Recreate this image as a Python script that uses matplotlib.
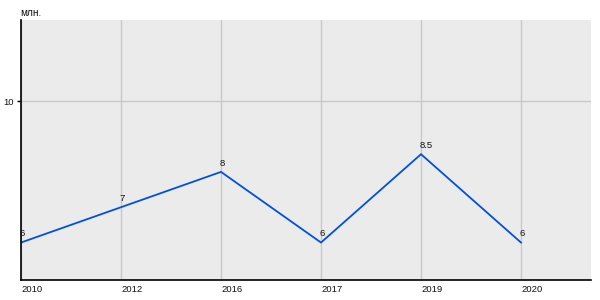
import numpy as np
import matplotlib
matplotlib.use('Agg')
import matplotlib.pyplot as plt

years = ['2010', '2012', '2016', '2017', '2019', '2020']
values = [6, 7, 8, 6, 8.5, 6]
value_labels = ['6', '7', '8', '6', '8.5', '6']
y_ticks = [10]

plt.rcParams['font.family'] = ['Liberation Sans', 'DejaVu Sans']

fig = plt.figure(figsize=(6, 3), dpi=100)
ax = fig.add_axes([0.035, 0.0667, 0.95, 0.8667])
ax.set_facecolor('#ebebeb')

x = np.arange(len(years))
ax.plot(x, values, color='#0050e0', lw=1.3, solid_joinstyle='miter')

for xi, v, lab in zip(x, values, value_labels):
    ax.annotate(lab, (xi, v), xytext=(-1, 3), textcoords='offset points',
                ha='left', va='bottom', fontsize=6.8, color='#111111')

ax.set_xlim(0, 5.7)
ax.set_ylim(4.94, 12.3)
ax.set_xticks(x)
ax.set_xticklabels(years, ha='left', fontsize=6.8, color='#111111')
ax.set_yticks(y_ticks)
ax.set_yticklabels(['10'], fontsize=6.8, color='#111111')
ax.grid(True, color='#c8c8c8', lw=1)
ax.set_axisbelow(True)

ax.tick_params(axis='x', length=0, pad=3.5)
ax.tick_params(axis='y', length=3, width=1, pad=2, color='black')
for side in ['top', 'right']:
    ax.spines[side].set_visible(False)
for side in ['left', 'bottom']:
    ax.spines[side].set_color('black')
    ax.spines[side].set_linewidth(1.2)

fig.text(0.034, 0.957, 'млн.', fontsize=7.2, color='#111111', ha='left', va='center')

fig.savefig('out.png', dpi=100)
